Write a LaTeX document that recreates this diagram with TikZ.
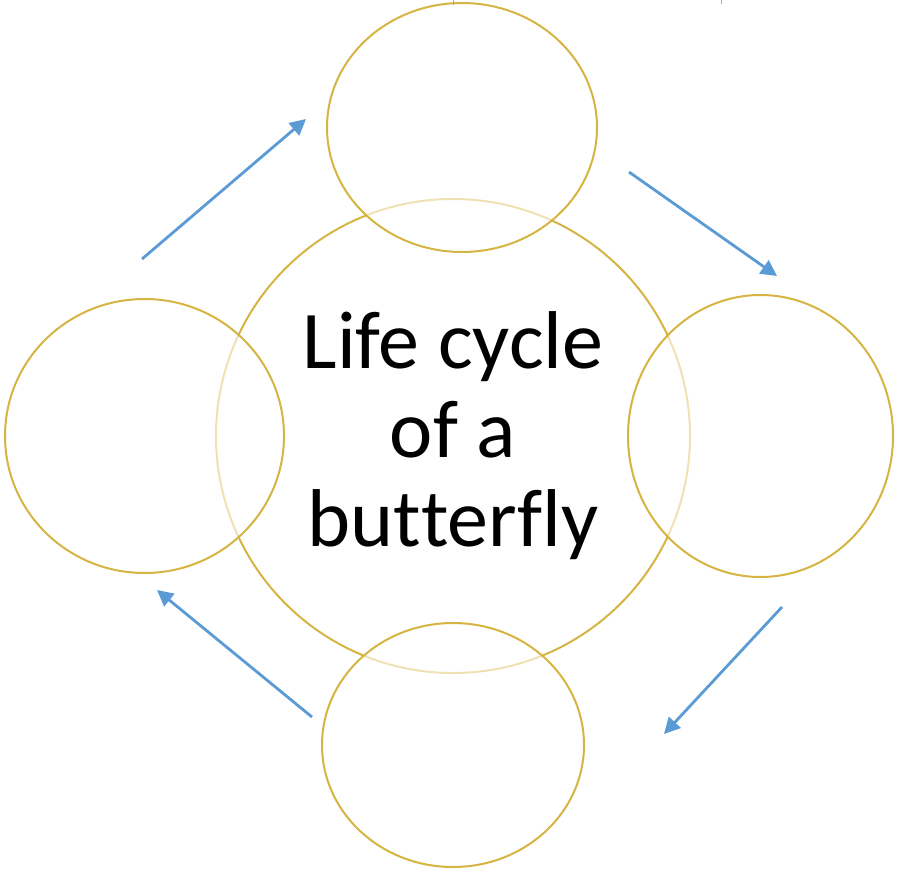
\documentclass[tikz,border=0pt]{standalone}
\usepackage{fontspec}
\setmainfont[Ligatures=NoCommon]{Carlito}
\usetikzlibrary{shapes.geometric,arrows.meta}
\definecolor{gold}{RGB}{214,180,66}
\definecolor{arrowblue}{RGB}{91,155,213}
\begin{document}
\begin{tikzpicture}[x=1pt,y=-1pt,
  ring/.style={ellipse,draw=gold,line width=2pt,inner sep=0pt,fill=white,fill opacity=0.6,text opacity=1},
  flow/.style={draw=arrowblue,line width=2.8pt,-{Triangle[length=16pt,width=16pt]}}]
\useasboundingbox (0,0) rectangle (897,870);
\node[ring,fill opacity=0,minimum width=474pt,minimum height=474pt,align=center,
      font=\fontsize{82}{89}\selectfont] (center) at (453,436) {Life cycle\\of a\\but\kern0pt ter\kern0pt f\kern0pt ly};
\node[ring,minimum width=270pt,minimum height=249pt] (top) at (462,127.5) {};
\node[ring,minimum width=279pt,minimum height=274pt] (left) at (144.5,436) {};
\node[ring,minimum width=265pt,minimum height=282pt] (right) at (760.5,436) {};
\node[ring,minimum width=262pt,minimum height=244pt] (bottom) at (453,745) {};
\coordinate (a1s) at (142,259); \coordinate (a1e) at (306,119);
\coordinate (a2s) at (629,172); \coordinate (a2e) at (777,276);
\coordinate (a3s) at (782,607); \coordinate (a3e) at (664,734);
\coordinate (a4s) at (312,717); \coordinate (a4e) at (157,590);
\draw[flow] (a1s) -- (a1e);
\draw[flow] (a2s) -- (a2e);
\draw[flow] (a3s) -- (a3e);
\draw[flow] (a4s) -- (a4e);
\coordinate (t1a) at (453,0); \coordinate (t1b) at (453,5);
\coordinate (t2a) at (721,0); \coordinate (t2b) at (721,4);
\draw[gray!70,line width=0.8pt] (t1a) -- (t1b);
\draw[gray!70,line width=0.8pt] (t2a) -- (t2b);
\end{tikzpicture}
\end{document}
